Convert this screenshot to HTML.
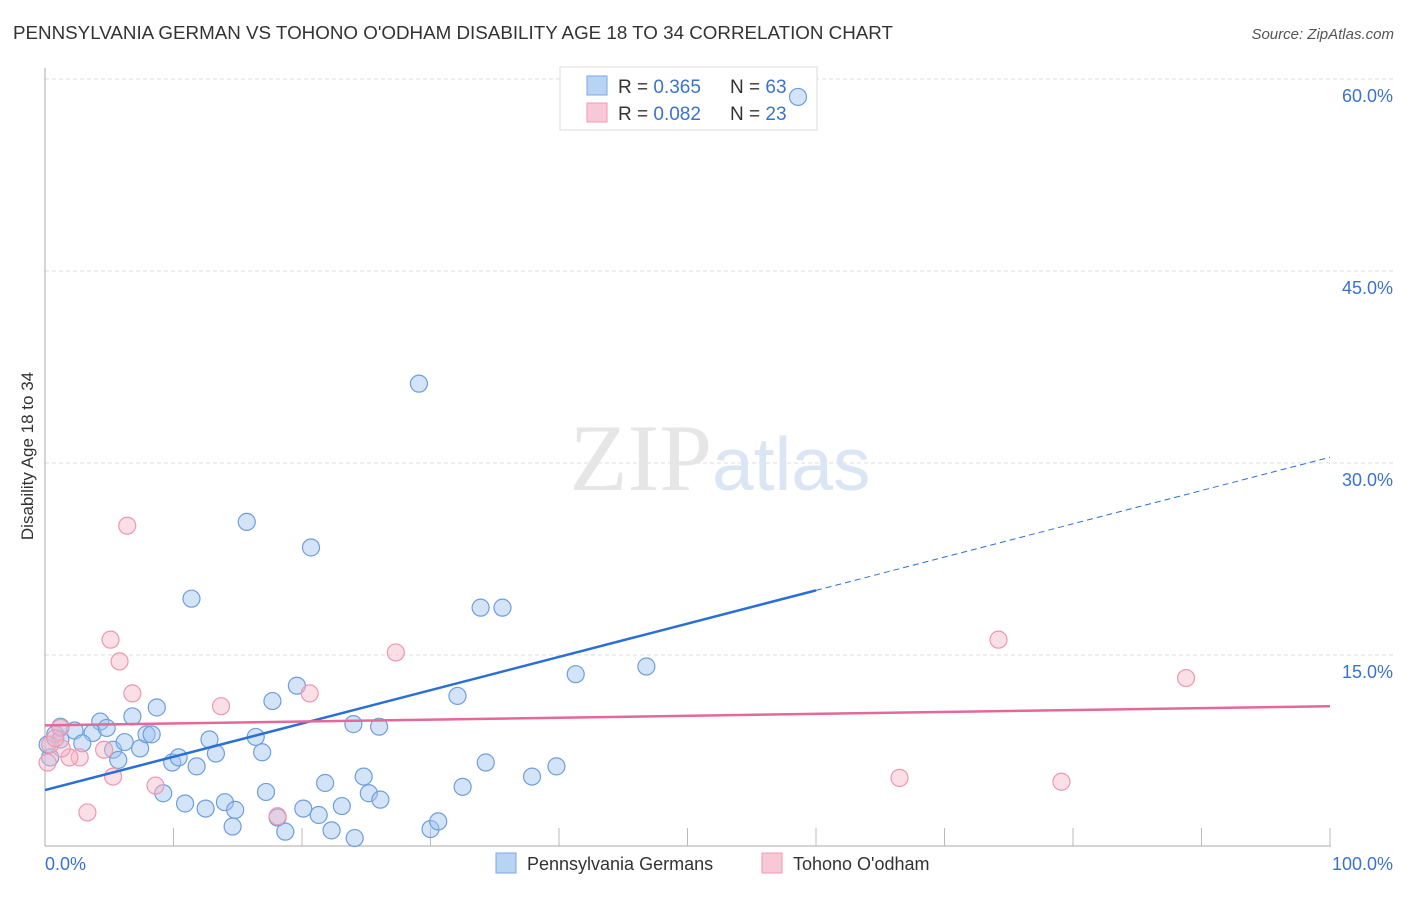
<!DOCTYPE html>
<html><head><meta charset="utf-8"><style>
body{margin:0;background:#fff;font-family:"Liberation Sans",sans-serif}
svg text{font-family:"Liberation Sans",sans-serif}
</style></head><body>
<svg id="chart" width="1406" height="892" viewBox="0 0 1406 892" xmlns="http://www.w3.org/2000/svg">
<text x="13" y="39" font-size="18.3" fill="#333" textLength="880" lengthAdjust="spacingAndGlyphs">PENNSYLVANIA GERMAN VS TOHONO O'ODHAM DISABILITY AGE 18 TO 34 CORRELATION CHART</text>
<text x="1394" y="39" font-size="15" fill="#555" text-anchor="end" font-style="italic">Source: ZipAtlas.com</text>
<g id="grid"></g>
<text x="720" y="490" font-size="95" text-anchor="middle" fill="#e6e6e6"><tspan font-family="Liberation Serif">ZIP</tspan><tspan fill="#dbe6f5" font-size="75">atlas</tspan></text>
<g>
<rect x="560" y="67" width="257" height="63" fill="#fff" stroke="#ddd"/>
<rect x="587" y="76" width="20" height="19" fill="#b8d4f4" stroke="#7aa8e0"/>
<rect x="587" y="103" width="20" height="19" fill="#f9c8d6" stroke="#ee9ab2"/>
<text x="618" y="93" font-size="19" fill="#333">R = <tspan fill="#3a72d0">0.365</tspan></text>
<text x="730" y="93" font-size="19" fill="#333">N = <tspan fill="#3a72d0">63</tspan></text>
<text x="618" y="120" font-size="19" fill="#333">R = <tspan fill="#3a72d0">0.082</tspan></text>
<text x="730" y="120" font-size="19" fill="#333">N = <tspan fill="#3a72d0">23</tspan></text>
</g>
<g id="axes"></g>
<g id="marks"></g>
<text transform="translate(33,456) rotate(-90)" font-size="17" fill="#333" text-anchor="middle">Disability Age 18 to 34</text>
<g>
<rect x="496" y="853" width="20" height="20" fill="#b8d4f4" stroke="#7aa8e0"/>
<text x="527" y="870" font-size="18" fill="#333">Pennsylvania Germans</text>
<rect x="762" y="853" width="20" height="20" fill="#f9c8d6" stroke="#ee9ab2"/>
<text x="793" y="870" font-size="18" fill="#333">Tohono O'odham</text>
</g>
</svg>
<script>
const yTicks=[15,30,45,60];
const yTickLabels=["15.0%","30.0%","45.0%","60.0%"];
const xTicks=[10,20,30,40,50,60,70,80,90,100];
const blueX=[58.6,29.1,15.7,20.7,11.4,33.9,35.6,41.3,46.8,32.1,19.6,17.7,8.7,6.8,4.3,2.3,3.7,4.8,0.8,1.2,2.9,5.3,6.2,7.4,7.9,8.3,5.7,9.9,10.4,11.8,12.8,13.3,16.4,16.9,24.0,26.0,34.3,37.9,39.8,32.5,24.8,25.2,26.1,21.8,17.2,10.9,12.5,14.0,14.8,9.2,20.1,21.3,23.1,18.1,18.7,14.6,22.3,24.1,30.0,30.6,0.4,0.2,1.2];
const blueY=[58.6,36.2,25.4,23.4,19.4,18.7,18.7,13.5,14.1,11.8,12.6,11.4,10.9,10.2,9.8,9.1,8.9,9.3,8.8,8.4,8.1,7.6,8.2,7.7,8.8,8.8,6.8,6.6,7.0,6.3,8.4,7.3,8.6,7.4,9.6,9.4,6.6,5.5,6.3,4.7,5.5,4.2,3.7,5.0,4.3,3.4,3.0,3.5,2.9,4.2,3.0,2.5,3.2,2.3,1.2,1.6,1.3,0.7,1.4,2.0,7.0,8.0,9.4];
const pinkX=[6.4,5.1,5.8,6.8,13.7,20.6,27.3,74.2,88.8,66.5,79.1,8.6,3.3,18.1,5.3,4.6,2.7,1.9,1.2,1.3,0.4,0.2,0.8];
const pinkY=[25.1,16.2,14.5,12.0,11.0,12.0,15.2,16.2,13.2,5.4,5.1,4.8,2.7,2.4,5.5,7.6,7.0,7.0,9.3,7.7,8.0,6.6,8.5];
const blueTrend=[4.45,0.26];
const blueSolidEnd=60;
const pinkTrend=[9.5,0.015];
const X=v=>45+v*12.85, Y=v=>847-v*12.8;
const NS="http://www.w3.org/2000/svg";
function mk(t,a,p){const e=document.createElementNS(NS,t);for(const k in a)e.setAttribute(k,a[k]);p.appendChild(e);return e;}
const grid=document.getElementById('grid'),axes=document.getElementById('axes'),marks=document.getElementById('marks');
yTicks.forEach((v,i)=>{
 const l=mk('line',{x1:45,x2:1395,y1:Y(v),y2:Y(v),stroke:'#ddd','stroke-dasharray':'4,3'},grid);
 
 
 const t=mk('text',{x:1393,y:Y(v)+23,'font-size':18,fill:'#3a72d0','text-anchor':'end'},axes);
 t.textContent=yTickLabels[i];
 
 
});
let a=mk('line',{x1:45,x2:45,y1:68,y2:846,stroke:'#aaa'},axes);


a=mk('line',{x1:45,x2:1331,y1:846,y2:846,stroke:'#aaa'},axes);


xTicks.forEach(v=>{const l=mk('line',{x1:X(v),x2:X(v),y1:828,y2:846,stroke:'#bbb'},axes);
 
 });
let t=mk('text',{x:45,y:870,'font-size':18,fill:'#3a72d0'},axes);t.textContent='0.0%';


t=mk('text',{x:1393,y:870,'font-size':18,fill:'#3a72d0','text-anchor':'end'},axes);t.textContent='100.0%';


blueX.forEach((x,i)=>{const c=mk('circle',{cx:X(x),cy:Y(blueY[i]),r:8.5,fill:'rgba(160,196,240,0.45)',stroke:'#6e9edc','stroke-width':1.2},marks);
 
 });
pinkX.forEach((x,i)=>{const c=mk('circle',{cx:X(x),cy:Y(pinkY[i]),r:8.5,fill:'rgba(246,184,202,0.45)',stroke:'#ec98b0','stroke-width':1.2},marks);
 
 });
const bf=v=>blueTrend[0]+blueTrend[1]*v, pf=v=>pinkTrend[0]+pinkTrend[1]*v;
let l=mk('line',{x1:X(0),y1:Y(bf(0)),x2:X(blueSolidEnd),y2:Y(bf(blueSolidEnd)),stroke:'#2a6fd6','stroke-width':2.5},marks);


l=mk('line',{x1:X(blueSolidEnd),y1:Y(bf(blueSolidEnd)),x2:X(100),y2:Y(bf(100)),stroke:'#2a6fd6','stroke-width':1,'stroke-dasharray':'6,4'},marks);


l=mk('line',{x1:X(0),y1:Y(pf(0)),x2:X(100),y2:Y(pf(100)),stroke:'#e4689a','stroke-width':2.5},marks);


</script>
</body></html>
